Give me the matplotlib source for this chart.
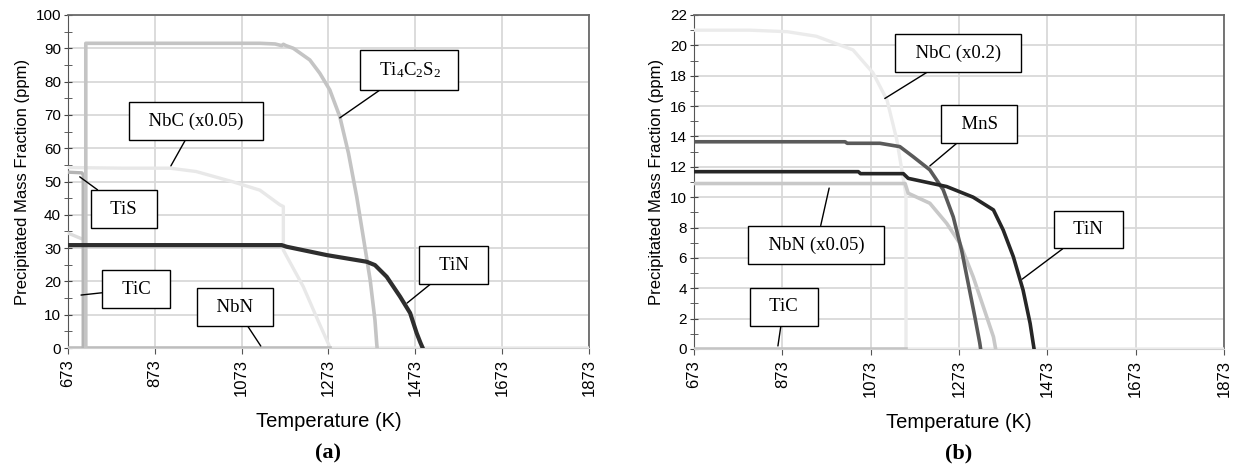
import numpy as np
import matplotlib
matplotlib.use("Agg")
import matplotlib.pyplot as plt
from matplotlib.ticker import MultipleLocator

plt.rcParams['font.family'] = ['Liberation Sans', 'DejaVu Sans']
plt.rcParams['mathtext.fontset'] = 'custom'
plt.rcParams['mathtext.rm'] = 'Liberation Serif'
plt.rcParams['mathtext.it'] = 'Liberation Serif'
plt.rcParams['lines.solid_joinstyle'] = 'round'

# ---- panel (a) data: temperature (K), precipitated mass fraction (ppm)
a_ti4c2s2_T = [714, 714, 1000, 1115, 1150, 1165, 1169, 1175, 1192, 1230, 1253, 1276, 1299, 1319, 1338, 1353, 1369, 1380, 1384, 1385]
a_ti4c2s2_v = [0, 91.5, 91.5, 91.5, 91.3, 90.8, 91.2, 90.8, 90.0, 86.5, 82.5, 77.5, 69.5, 58.5, 45.4, 33.4, 20.4, 8.4, 1.4, 0]
a_tis_T = [673, 705, 708, 708]
a_tis_v = [52.8, 52.6, 52.0, 0]
a_nbc_T = [673, 800, 908, 968, 1053, 1115, 1161, 1169, 1169, 1176, 1215, 1250, 1277, 1873]
a_nbc_v = [54.2, 54.0, 54.0, 53.0, 49.9, 47.4, 43.0, 42.5, 29.4, 27.7, 18.4, 7.9, 0, 0]
a_tic_T = [673, 712, 713]
a_tic_v = [34.5, 32.4, 0]
a_nbn_T = [673, 1277]
a_nbn_v = [0, 0]
a_tin_T = [673, 1165, 1177, 1269, 1361, 1380, 1407, 1438, 1461, 1476, 1485, 1490]
a_tin_v = [30.9, 30.9, 30.4, 27.9, 25.9, 24.9, 21.4, 15.4, 10.5, 4.5, 1.5, 0]

# ---- panel (b) data
b_nbc_T = [673, 800, 884, 950, 1033, 1078, 1110, 1132, 1151, 1153, 1153, 1873]
b_nbc_v = [21.0, 21.0, 20.9, 20.6, 19.7, 18.2, 16.4, 13.8, 10.5, 10.0, 0, 0]
b_nbn_T = [673, 1151, 1158, 1207, 1245, 1275, 1305, 1328, 1351, 1356]
b_nbn_v = [10.9, 10.9, 10.26, 9.6, 8.28, 6.96, 4.76, 2.79, 0.8, 0]
b_mns_T = [673, 1015, 1020, 1094, 1139, 1169, 1207, 1237, 1260, 1279, 1294, 1309, 1320, 1322]
b_mns_v = [13.65, 13.65, 13.55, 13.55, 13.33, 12.67, 11.8, 10.5, 8.7, 6.5, 4.3, 2.1, 0.4, 0]
b_tin_T = [673, 1045, 1050, 1147, 1158, 1245, 1305, 1351, 1373, 1396, 1418, 1434, 1441, 1443]
b_tin_v = [11.68, 11.68, 11.55, 11.55, 11.24, 10.7, 10.0, 9.16, 7.84, 6.08, 3.89, 1.69, 0.37, 0]
b_tic_T = [673, 1153]
b_tic_v = [0, 0]

x_ticks = [673, 873, 1073, 1273, 1473, 1673, 1873]

# (label, box center T, box center v, leader tip T, leader tip v)
a_labels = [
    (r"  Ti$_4$C$_2$S$_2$  ", 1458, 83.5, 1299, 69.1),
    ("  NbC (x0.05)  ", 968, 68.2, 910, 54.7),
    ("  TiS  ", 802, 41.7, 700, 51.4),
    ("  TiC  ", 830, 17.7, 703, 15.9),
    ("  NbN  ", 1058, 12.3, 1117, 0.6),
    ("  TiN  ", 1562, 24.9, 1454, 13.5),
]
b_labels = [
    ("  NbC (x0.2)  ", 1271, 19.5, 1105, 16.5),
    ("  MnS  ", 1319, 14.8, 1207, 12.06),
    ("  NbN (x0.05)  ", 950, 6.85, 979, 10.6),
    ("  TiC  ", 876, 2.77, 863, 0.2),
    ("  TiN  ", 1566, 7.87, 1416, 4.6),
]


def style_axes(ax, ymax, ymajor, yminor):
    ax.set_xlim(673, 1873)
    ax.set_ylim(0, ymax)
    ax.set_xticks(x_ticks)
    ax.set_xticklabels([str(t) for t in x_ticks], rotation=90, fontsize=12)
    ax.yaxis.set_major_locator(MultipleLocator(ymajor))
    ax.yaxis.set_minor_locator(MultipleLocator(yminor))
    ax.tick_params(axis='y', which='both', direction='inout', length=6,
                   color='#444444', labelsize=11, pad=2)
    ax.tick_params(axis='x', direction='out', length=4, color='#555555', pad=4)
    ax.grid(True, which='major', color='#d9d9d9', lw=1.3)
    ax.set_axisbelow(True)
    for s in ['top', 'right']:
        ax.spines[s].set_color('#6a6a6a')
        ax.spines[s].set_linewidth(1.3)
    ax.spines['left'].set_color('#555555')
    ax.spines['bottom'].set_color('#d0d0d0')
    ax.set_ylabel('Precipitated Mass Fraction (ppm)', fontsize=12, labelpad=4)
    ax.set_xlabel('Temperature (K)', fontsize=14.5, labelpad=11)


def add_labels(ax, labels):
    for txt, tx, ty, px, py in labels:
        ax.annotate(txt, xy=(px, py), xytext=(tx, ty), ha='center', va='center',
                    fontsize=13.5, family=['Liberation Serif', 'DejaVu Serif'],
                    bbox=dict(boxstyle='square,pad=0.55', fc='white', ec='black', lw=1.0),
                    arrowprops=dict(arrowstyle='-', color='black', lw=1.0,
                                    shrinkA=0, shrinkB=0),
                    zorder=10)


fig = plt.figure(figsize=(12.33, 4.72), dpi=100)
ax_a = fig.add_axes([68 / 1233, 1 - 348 / 472, 521 / 1233, 333 / 472])
ax_b = fig.add_axes([694 / 1233, 1 - 349 / 472, 530 / 1233, 334 / 472])

# panel (a)
ax_a.plot(a_nbc_T, a_nbc_v, color='#e8e8e8', lw=2.4, zorder=3)
ax_a.plot(a_tic_T, a_tic_v, color='#dcdcdc', lw=2.4, zorder=3)
ax_a.plot(a_nbn_T, a_nbn_v, color='#bdbdbd', lw=2.6, zorder=4)
ax_a.plot(a_tis_T, a_tis_v, color='#b4b4b4', lw=2.4, zorder=4)
ax_a.plot(a_ti4c2s2_T, a_ti4c2s2_v, color='#c4c4c4', lw=2.6, zorder=4)
ax_a.plot(a_tin_T, a_tin_v, color='#2e2e2e', lw=3.0, zorder=5)
style_axes(ax_a, 100, 10, 5)
add_labels(ax_a, a_labels)

# panel (b)
ax_b.plot(b_nbc_T, b_nbc_v, color='#ebebeb', lw=2.4, zorder=3)
ax_b.plot(b_tic_T, b_tic_v, color='#c4c4c4', lw=2.6, zorder=4)
ax_b.plot(b_nbn_T, b_nbn_v, color='#c8c8c8', lw=2.6, zorder=4)
ax_b.plot(b_mns_T, b_mns_v, color='#5a5a5a', lw=2.6, zorder=5)
ax_b.plot(b_tin_T, b_tin_v, color='#262626', lw=2.6, zorder=5)
style_axes(ax_b, 22, 2, 1)
add_labels(ax_b, b_labels)

fig.text(328 / 1233, 1 - 453 / 472, '(a)', ha='center', va='center', fontsize=16,
         fontweight='bold', family=['Liberation Serif', 'DejaVu Serif'])
fig.text(959 / 1233, 1 - 453 / 472, '(b)', ha='center', va='center', fontsize=16,
         fontweight='bold', family=['Liberation Serif', 'DejaVu Serif'])

fig.savefig('out.png', dpi=100)
